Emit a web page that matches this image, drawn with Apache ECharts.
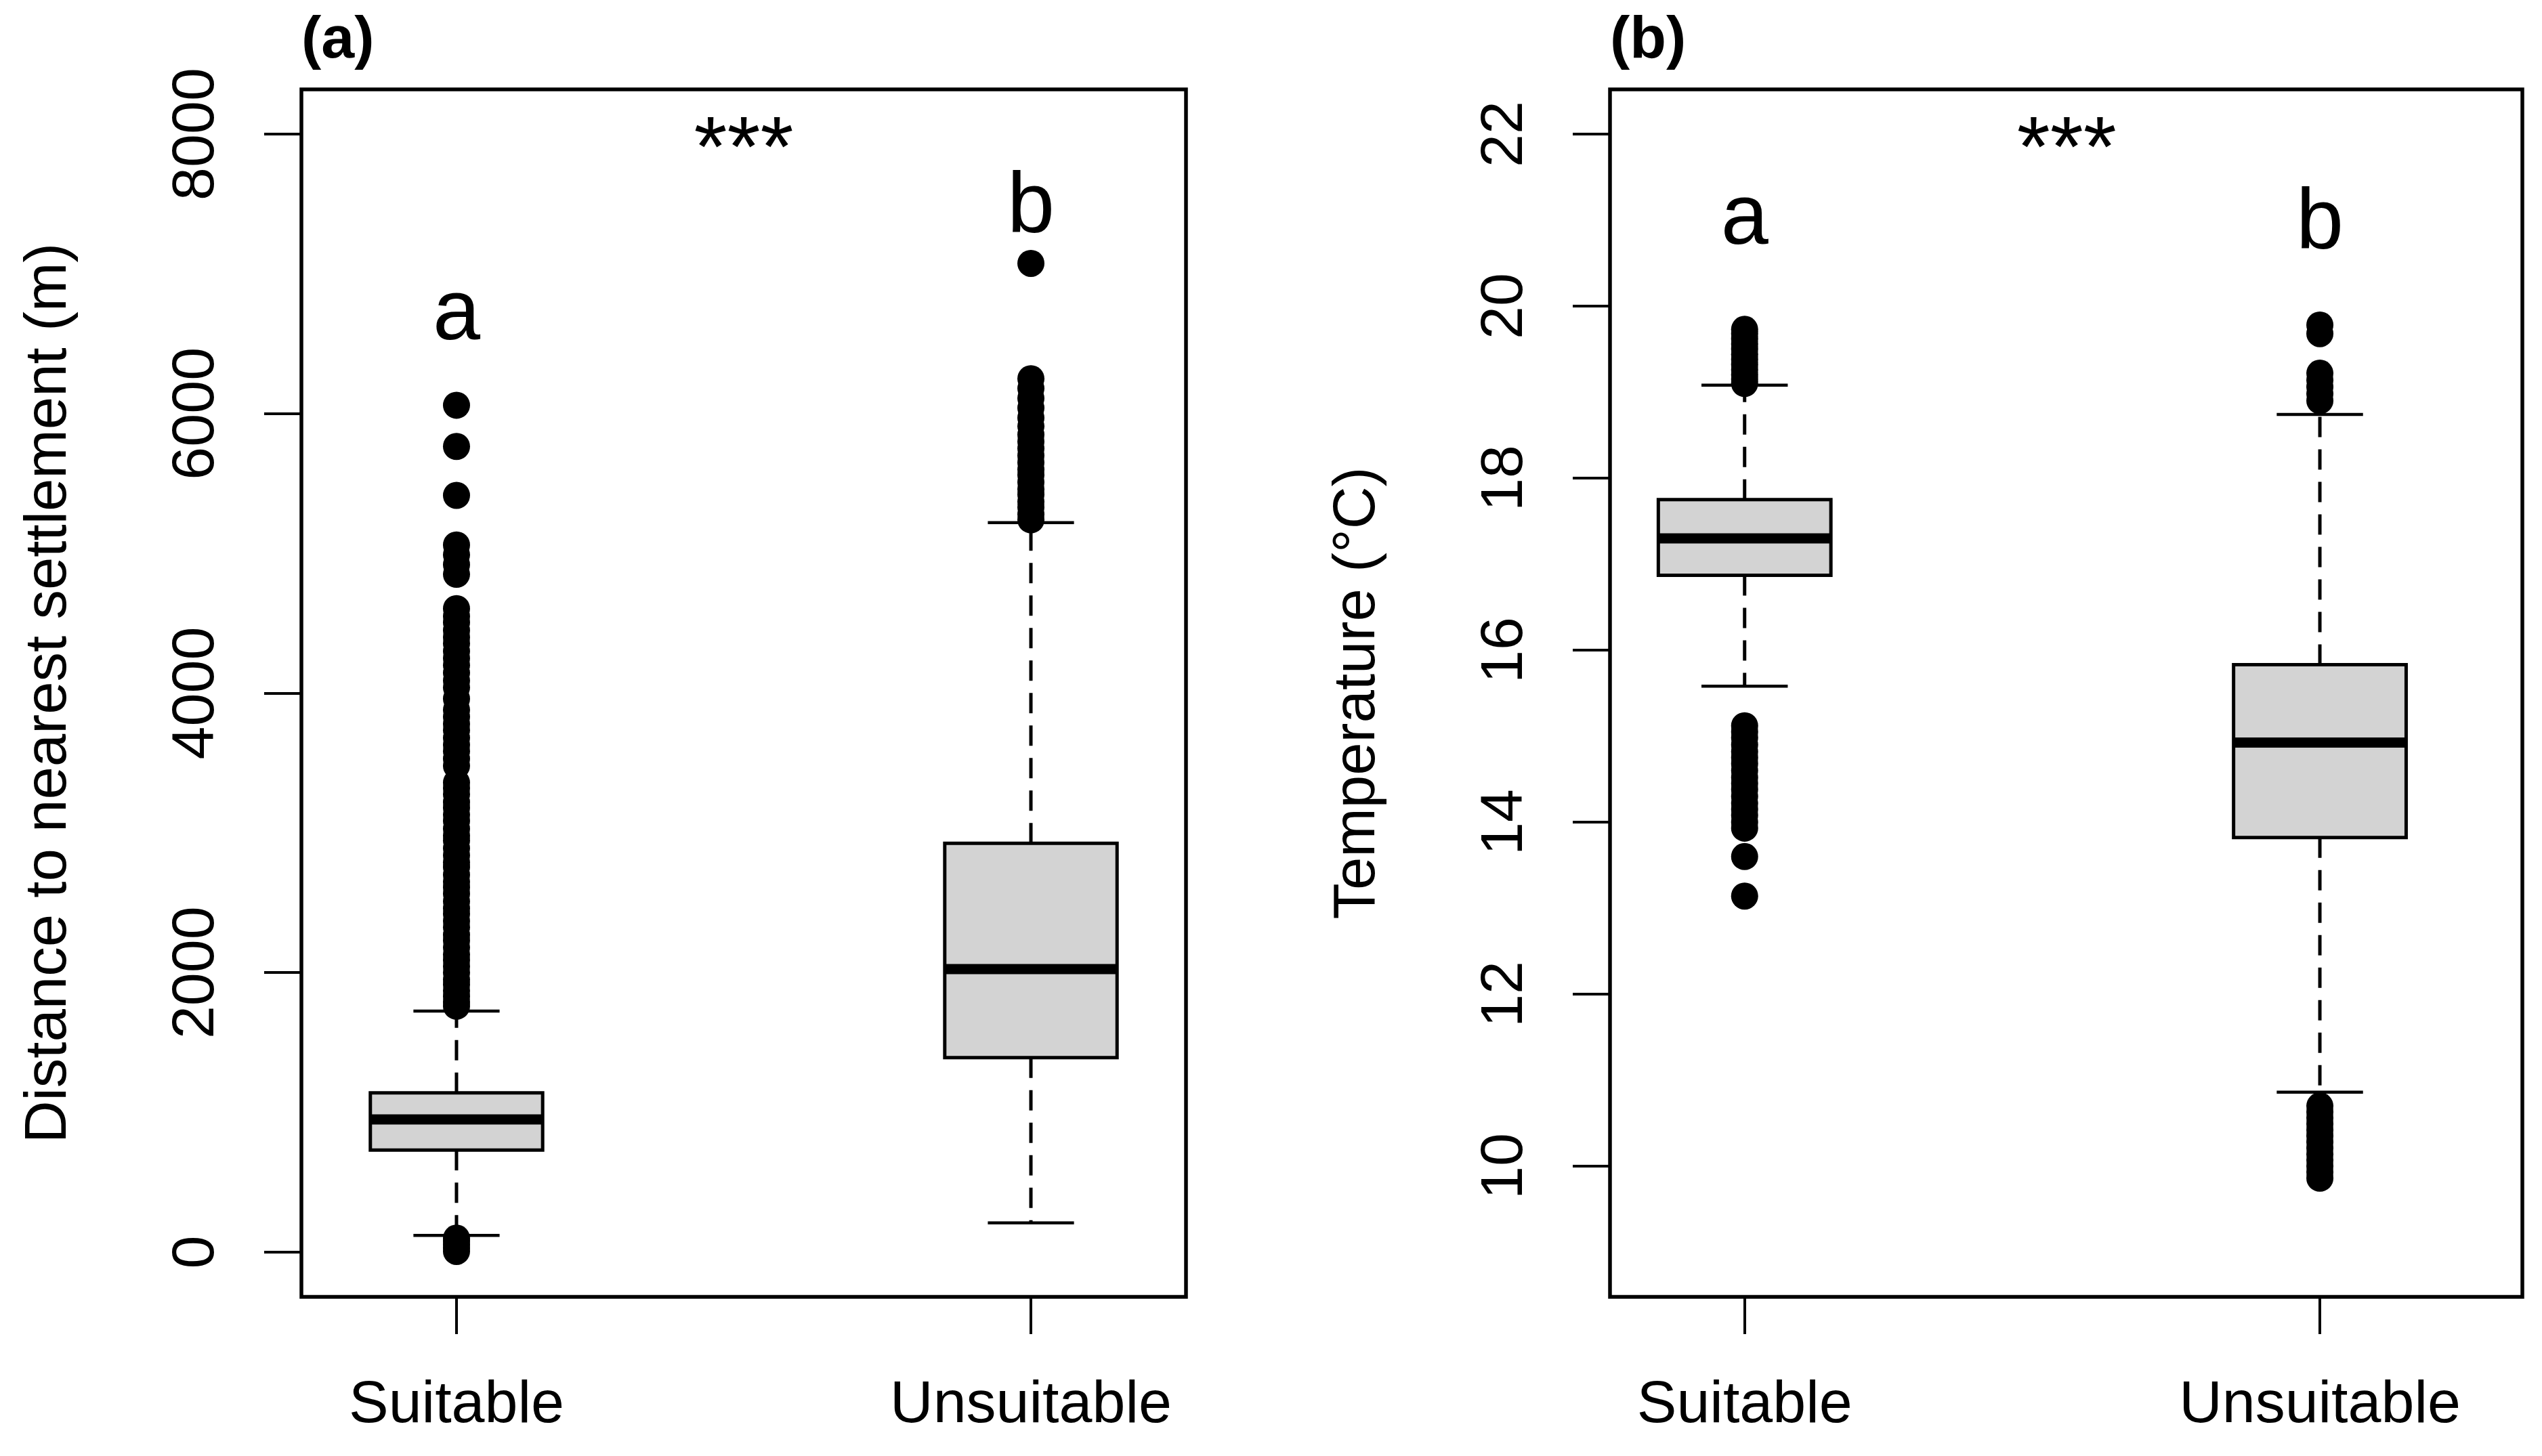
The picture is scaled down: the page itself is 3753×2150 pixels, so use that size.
<!DOCTYPE html>
<html>
<head>
<meta charset="utf-8">
<script src="https://cdn.jsdelivr.net/npm/echarts@6/dist/echarts.min.js"></script>
<style>html,body{margin:0;padding:0;background:#fff}#c{width:3753px;height:2150px}</style>
</head>
<body>
<div id="c"></div>
<script>
// ---------------- data ----------------
const categories = ['Suitable', 'Unsuitable'];
// box stats per category: [lowerWhisker, Q1, median, Q3, upperWhisker]
const distanceBoxes = [
  [120, 730, 950, 1140, 1725],
  [209, 1392, 2025, 2925, 5220]
];
const distanceOutliersSuitable = [
  5, 30, 55, 80, 100,
  1760, 1790, 1830, 1870, 1915, 1950, 2000, 2045, 2090, 2130, 2180, 2230, 2270, 2325, 2370,
  2420, 2460, 2510, 2565, 2610, 2650, 2700, 2755, 2790, 2840, 2890, 2945, 2980, 3030, 3085,
  3130, 3180, 3220, 3275, 3320, 3360, 3480, 3530, 3585, 3630, 3680, 3735, 3780, 3830, 3880,
  3960, 4040, 4090, 4145, 4200, 4250, 4300, 4355, 4400, 4450, 4505, 4550, 4605,
  4850, 4920, 4990, 5060, 5415, 5765, 6060
];
const distanceOutliersUnsuitable = [
  5240, 5280, 5330, 5370, 5420, 5460, 5510, 5560, 5600, 5650, 5700, 5750, 5800, 5850,
  5910, 5970, 6040, 6110, 6180, 6250, 7075
];
const tempBoxes = [
  [15.58, 16.87, 17.30, 17.75, 19.08],
  [10.86, 13.82, 14.925, 15.83, 18.74]
];
const tempOutliersSuitable = [
  19.10, 19.15, 19.20, 19.26, 19.32, 19.38, 19.44, 19.50, 19.56, 19.62, 19.68, 19.73,
  15.12, 15.05, 14.98, 14.90, 14.82, 14.75, 14.68, 14.60, 14.52, 14.45, 14.38, 14.30,
  14.22, 14.15, 14.08, 14.00, 13.93, 13.60, 13.14
];
const tempOutliersUnsuitable = [
  18.90, 18.98, 19.06, 19.14, 19.22, 19.68, 19.78,
  10.70, 10.63, 10.56, 10.49, 10.42, 10.35, 10.28, 10.21, 10.14, 10.07, 10.00, 9.93, 9.86
];
const distanceTicks = [0, 2000, 4000, 6000, 8000];
const tempTicks = [10, 12, 14, 16, 18, 20, 22];
const groupLetters = ['a', 'b'];
const distanceLetterY = [6700, 7500];
const tempLetterY = [21.0, 21.0];
const signifText = '***';
const panelTitles = ['(a)', '(b)'];
const yTitles = ['Distance to nearest settlement (m)', 'Temperature (°C)'];

// ---------------- chart ----------------
const FONT = 'Liberation Sans, Arial, Helvetica, sans-serif';
const chart = echarts.init(document.getElementById('c'), null, {renderer: 'canvas'});

function renderBox(params, api) {
  const x = api.value(0);
  const lw = api.value(1), q1 = api.value(2), med = api.value(3), q3 = api.value(4), uw = api.value(5);
  const halfBox = 0.15, halfCap = 0.075;
  const L = api.coord([x - halfBox, q1])[0];
  const R = api.coord([x + halfBox, q1])[0];
  const cx = api.coord([x, q1])[0];
  const cl = api.coord([x - halfCap, q1])[0];
  const cr = api.coord([x + halfCap, q1])[0];
  const yq1 = api.coord([x, q1])[1], yq3 = api.coord([x, q3])[1];
  const ymed = api.coord([x, med])[1], ylw = api.coord([x, lw])[1], yuw = api.coord([x, uw])[1];
  const solid = {stroke: '#000', lineWidth: 4.5};
  const dashed = {stroke: '#000', lineWidth: 5, lineDash: [30, 18]};
  return {
    type: 'group',
    children: [
      {type: 'line', shape: {x1: cx, y1: yq3, x2: cx, y2: yuw}, style: dashed},
      {type: 'line', shape: {x1: cx, y1: yq1, x2: cx, y2: ylw}, style: dashed},
      {type: 'line', shape: {x1: cl, y1: yuw, x2: cr, y2: yuw}, style: solid},
      {type: 'line', shape: {x1: cl, y1: ylw, x2: cr, y2: ylw}, style: solid},
      {type: 'rect', shape: {x: L, y: yq3, width: R - L, height: yq1 - yq3},
        style: {fill: '#d3d3d3', stroke: '#000', lineWidth: 5}},
      {type: 'line', shape: {x1: L, y1: ymed, x2: R, y2: ymed}, style: {stroke: '#000', lineWidth: 15}}
    ]
  };
}

function xAxisFor(gi, min, max) {
  return {
    type: 'value', gridIndex: gi, min: min, max: max, position: 'bottom',
    axisLine: {show: false, onZero: false}, splitLine: {show: false},
    axisTick: {show: true, length: 55, customValues: [1, 2], lineStyle: {color: '#000', width: 4}},
    axisLabel: {
      show: true, customValues: [1, 2], margin: 117,
      formatter: v => categories[Math.round(v) - 1] || '',
      fontSize: 88, lineHeight: 88, color: '#000', fontFamily: FONT
    }
  };
}
function yAxisFor(gi, min, max, ticks, name) {
  return {
    type: 'value', gridIndex: gi, min: min, max: max, position: 'left',
    axisLine: {show: false, onZero: false}, splitLine: {show: false},
    axisTick: {show: true, length: 55, customValues: ticks, lineStyle: {color: '#000', width: 4}},
    axisLabel: {
      show: true, customValues: ticks, rotate: 90, margin: 110,
      formatter: v => String(v),
      fontSize: 88, lineHeight: 88, color: '#000', fontFamily: FONT
    },
    name: name, nameLocation: 'middle', nameGap: 328, nameRotate: 90,
    nameTextStyle: {fontSize: 87, lineHeight: 87, color: '#000', fontFamily: FONT}
  };
}
function outlierSeries(xi, yi, cat, values) {
  return {
    type: 'scatter', xAxisIndex: xi, yAxisIndex: yi,
    data: values.map(v => [cat, v]),
    symbol: 'circle', symbolSize: 40,
    itemStyle: {color: '#000', opacity: 1},
    z: 5, silent: true, animation: false
  };
}
function textSeries(xi, yi, items) {
  return {
    type: 'scatter', xAxisIndex: xi, yAxisIndex: yi,
    symbolSize: 1, itemStyle: {color: 'rgba(0,0,0,0)', opacity: 1},
    data: items.map(it => ({
      value: [it.x, it.y],
      label: {show: true, position: 'inside', formatter: it.text, offset: [0, it.dy],
        fontSize: 126, lineHeight: 126, color: '#000', opacity: 1, textBorderWidth: 0,
        fontFamily: FONT}
    })),
    z: 6, silent: true, animation: false
  };
}
const letterDy = t => (t === 'a' ? 0 : 7);

const option = {
  backgroundColor: '#fff',
  animation: false,
  title: [
    {text: panelTitles[0], left: 445, top: 17, padding: 0,
      textStyle: {fontSize: 88, lineHeight: 88, fontWeight: 'bold', color: '#000', fontFamily: FONT}},
    {text: panelTitles[1], left: 2377, top: 17, padding: 0,
      textStyle: {fontSize: 88, lineHeight: 88, fontWeight: 'bold', color: '#000', fontFamily: FONT}}
  ],
  grid: [
    {left: 445, top: 132, width: 1306, height: 1783, show: true, borderColor: '#000', borderWidth: 5.5,
      backgroundColor: 'rgba(0,0,0,0)', containLabel: false},
    {left: 2377, top: 132, width: 1347, height: 1783, show: true, borderColor: '#000', borderWidth: 5.5,
      backgroundColor: 'rgba(0,0,0,0)', containLabel: false}
  ],
  xAxis: [xAxisFor(0, 0.73, 2.27), xAxisFor(1, 0.766, 2.352)],
  yAxis: [
    yAxisFor(0, -320, 8320, distanceTicks, yTitles[0]),
    yAxisFor(1, 8.48, 22.52, tempTicks, yTitles[1])
  ],
  series: [
    {type: 'custom', xAxisIndex: 0, yAxisIndex: 0, renderItem: renderBox,
      data: distanceBoxes.map((b, i) => [i + 1].concat(b)), z: 3, silent: true, animation: false},
    {type: 'custom', xAxisIndex: 1, yAxisIndex: 1, renderItem: renderBox,
      data: tempBoxes.map((b, i) => [i + 1].concat(b)), z: 3, silent: true, animation: false},
    outlierSeries(0, 0, 1, distanceOutliersSuitable),
    outlierSeries(0, 0, 2, distanceOutliersUnsuitable),
    outlierSeries(1, 1, 1, tempOutliersSuitable),
    outlierSeries(1, 1, 2, tempOutliersUnsuitable),
    textSeries(0, 0, [
      {x: 1.5, y: 8000, text: signifText, dy: 27},
      {x: 1, y: distanceLetterY[0], text: groupLetters[0], dy: letterDy(groupLetters[0])},
      {x: 2, y: distanceLetterY[1], text: groupLetters[1], dy: letterDy(groupLetters[1])}
    ]),
    textSeries(1, 1, [
      {x: 1.56, y: 22, text: signifText, dy: 27},
      {x: 1, y: tempLetterY[0], text: groupLetters[0], dy: letterDy(groupLetters[0])},
      {x: 2, y: tempLetterY[1], text: groupLetters[1], dy: letterDy(groupLetters[1])}
    ])
  ]
};
chart.setOption(option);
</script>
</body>
</html>
